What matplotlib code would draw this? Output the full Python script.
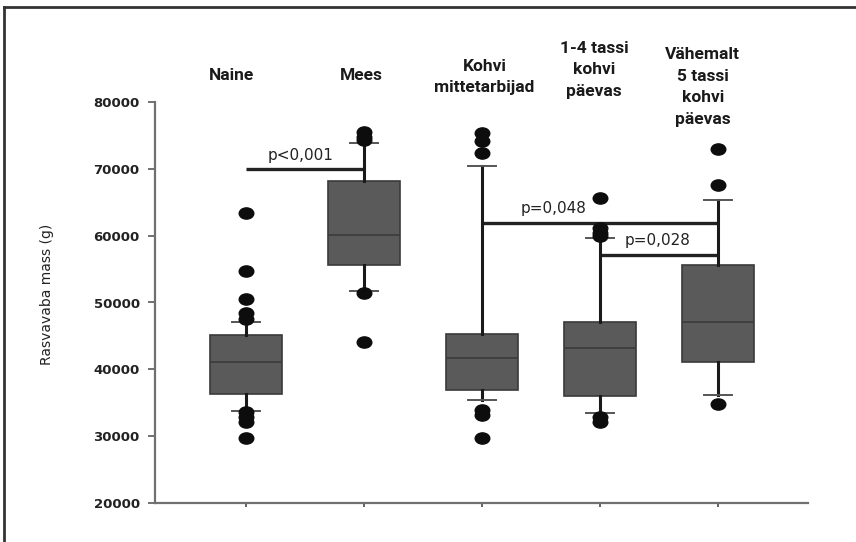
import matplotlib
matplotlib.use("Agg")
import matplotlib.pyplot as plt
from matplotlib.path import Path
from matplotlib.transforms import Affine2D, blended_transform_factory
from matplotlib.lines import Line2D

# group names shown above the boxes
groups = ["Naine", "Mees", "Kohvi\nmittetarbijad", "1-4 tassi\nkohvi\npäevas",
          "Vähemalt\n5 tassi\nkohvi\npäevas"]

# box statistics (g)
medians = [41140, 60100, 41740, 43240, 47130]
q1s = [36310, 55610, 36910, 36010, 41140]
q3s = [45140, 68230, 45290, 47130, 55610]
whis_lo = [33810, 51770, 35410, 33420, 36160]
whis_hi = [47130, 73910, 70430, 59600, 65340]
outliers = [
    [63350, 54760, 50480, 48390, 47600, 33600, 32910, 32170, 29670],
    [75560, 74810, 74320, 51470, 44140],
    [75320, 74210, 72330, 33920, 33170, 29680],
    [65680, 61100, 60450, 59950, 32920, 32170],
    [72930, 67580, 34810],
]

# significance brackets: (from group, to group, level, text)
brackets = [(1, 2, 69930, "p<0,001"),
            (3, 5, 61940, "p=0,048"),
            (4, 5, 57110, "p=0,028")]

yticks = [20000, 30000, 40000, 50000, 60000, 70000, 80000]

fig = plt.figure(figsize=(8.56, 5.42), dpi=100)
ax = fig.add_axes([155 / 856, 1 - 503 / 542, (808 - 155) / 856, (503 - 102) / 542])

stats = []
for i in range(len(groups)):
    stats.append(dict(med=medians[i], q1=q1s[i], q3=q3s[i],
                      whislo=whis_lo[i], whishi=whis_hi[i],
                      fliers=outliers[i], label=groups[i]))

positions = list(range(1, len(groups) + 1))
oval = Path.unit_circle().transformed(Affine2D().scale(1.3, 1.0))

ax.bxp(stats, positions=positions, widths=0.61, capwidths=0.23,
       patch_artist=True, showfliers=True,
       boxprops=dict(facecolor="#5a5a5a", edgecolor="#3a3a3a", linewidth=1.2),
       medianprops=dict(color="#3b3b3b", linewidth=1.2),
       whiskerprops=dict(color="#1a1a1a", linewidth=2.2),
       capprops=dict(color="#555555", linewidth=1.4),
       flierprops=dict(marker=oval, markersize=10.5, markerfacecolor="#0d0d0d",
                       markeredgecolor="#0d0d0d", linestyle="none"))

text_x = [1.46, 3.61, 4.49]
for (a, b, level, txt), tx in zip(brackets, text_x):
    ax.plot([a, b], [level, level], color="#222222", linewidth=2.4,
            solid_capstyle="butt", zorder=1)
    ax.text(tx, level + 1000, txt, ha="center", va="bottom",
            fontsize=11, color="#222222", family="DejaVu Sans")

ax.set_xlim(0.229, 5.763)
ax.set_ylim(20000, 80000)
ax.set_yticks(yticks)
ax.set_yticklabels([str(v) for v in yticks], fontsize=9.5, fontweight="bold",
                   color="#222222", family="DejaVu Sans")
ax.set_xticks(positions)
ax.set_xticklabels([])
ax.tick_params(axis="y", length=5, width=1.3, color="#666666", pad=6)
ax.tick_params(axis="x", length=3, width=1.3, color="#555555")
ax.set_ylabel("Rasvavaba mass (g)", fontsize=10, color="#222222",
              family="DejaVu Sans")
ax.yaxis.set_label_coords(-0.154, 0.52)

for side in ["top", "right"]:
    ax.spines[side].set_visible(False)
for side in ["left", "bottom"]:
    ax.spines[side].set_color("#707070")
    ax.spines[side].set_linewidth(1.6)

# group headings above the plot
label_shift = [-0.12, -0.02, 0.02, -0.05, -0.13]
label_rows = [76, 76, 77, 70, 87]
trans = blended_transform_factory(ax.transData, fig.transFigure)
for i, name in enumerate(groups):
    ax.text(positions[i] + label_shift[i], 1 - label_rows[i] / 542, name,
            transform=trans, ha="center", va="center", fontsize=12.5,
            fontweight="bold", family=["Roboto", "Open Sans"],
            color="#1a1a1a", linespacing=1.56, clip_on=False)

# border lines along the left and top of the figure
fig.add_artist(Line2D([4 / 856, 4 / 856], [0, 1 - 7 / 542],
                      transform=fig.transFigure, color="#333333", linewidth=2))
fig.add_artist(Line2D([4 / 856, 1], [1 - 7 / 542, 1 - 7 / 542],
                      transform=fig.transFigure, color="#333333", linewidth=2))

fig.savefig("out.png", dpi=100)
